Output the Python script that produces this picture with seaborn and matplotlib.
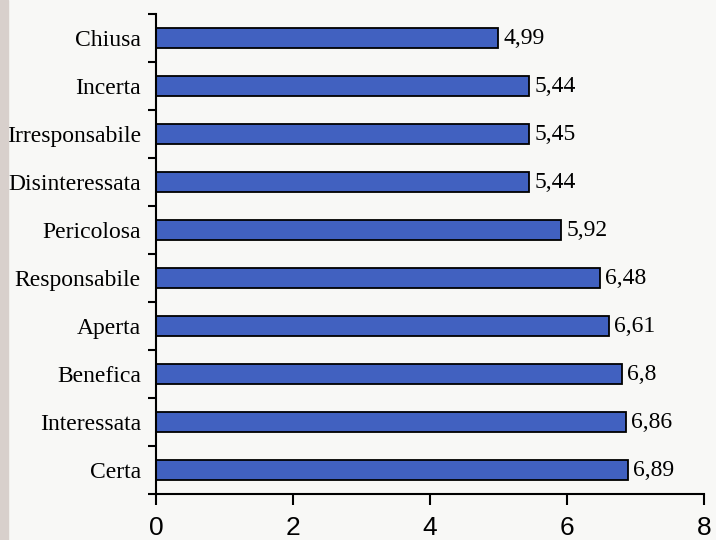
import matplotlib
matplotlib.use('Agg')
import matplotlib.pyplot as plt
import pandas as pd
import seaborn as sns
from matplotlib.patches import Rectangle

# 数据
categorie = ['Chiusa', 'Incerta', 'Irresponsabile', 'Disinteressata', 'Pericolosa',
             'Responsabile', 'Aperta', 'Benefica', 'Interessata', 'Certa']
valori = [4.99, 5.44, 5.45, 5.44, 5.92, 6.48, 6.61, 6.8, 6.86, 6.89]
xticks = [0, 2, 4, 6, 8]

df = pd.DataFrame({'cat': categorie, 'val': valori})

sns.set_style('white')
fig = plt.figure(figsize=(7.16, 5.4), dpi=100, facecolor='#f8f8f6')
ax = fig.add_axes([0.218, 0.085, 0.765, 0.889])
ax.set_facecolor('#f8f8f6')
# 左侧灰色条
fig.patches.append(Rectangle((0, 0), 8 / 716, 1, transform=fig.transFigure,
                             color='#d8d0cc', zorder=0))

sns.barplot(data=df, x='val', y='cat', orient='h', color='#4161c0',
            edgecolor='black', linewidth=1.3, width=0.43, saturation=1, ax=ax)

etichette = [f'{v:g}'.replace('.', ',') for v in valori]
ax.bar_label(ax.containers[0], labels=etichette, padding=4, color='black',
             fontfamily='Liberation Serif', fontsize=17)

ax.set_xlim(0, 8)
ax.set_ylim(9.5, -0.5)
ax.set_xticks(xticks)
ax.set_xticklabels([str(t) for t in xticks], fontfamily='Liberation Sans', fontsize=19)
ax.set_yticks([i - 0.5 for i in range(11)], minor=True)
ax.tick_params(axis='y', which='major', length=0, pad=11, labelcolor='black')
ax.tick_params(axis='y', which='minor', length=6, width=1.5, direction='out', left=True, color='black')
ax.tick_params(axis='x', which='major', length=8, width=1.5, direction='out', bottom=True,
               pad=8, labelcolor='black', color='black')
for lab in ax.get_yticklabels():
    lab.set_fontfamily('Liberation Serif')
    lab.set_fontsize(17)
ax.set_xlabel('')
ax.set_ylabel('')
sns.despine(ax=ax)
for s in ['left', 'bottom']:
    ax.spines[s].set_linewidth(1.5)
    ax.spines[s].set_color('black')

fig.savefig('out.png', dpi=100, facecolor=fig.get_facecolor())
